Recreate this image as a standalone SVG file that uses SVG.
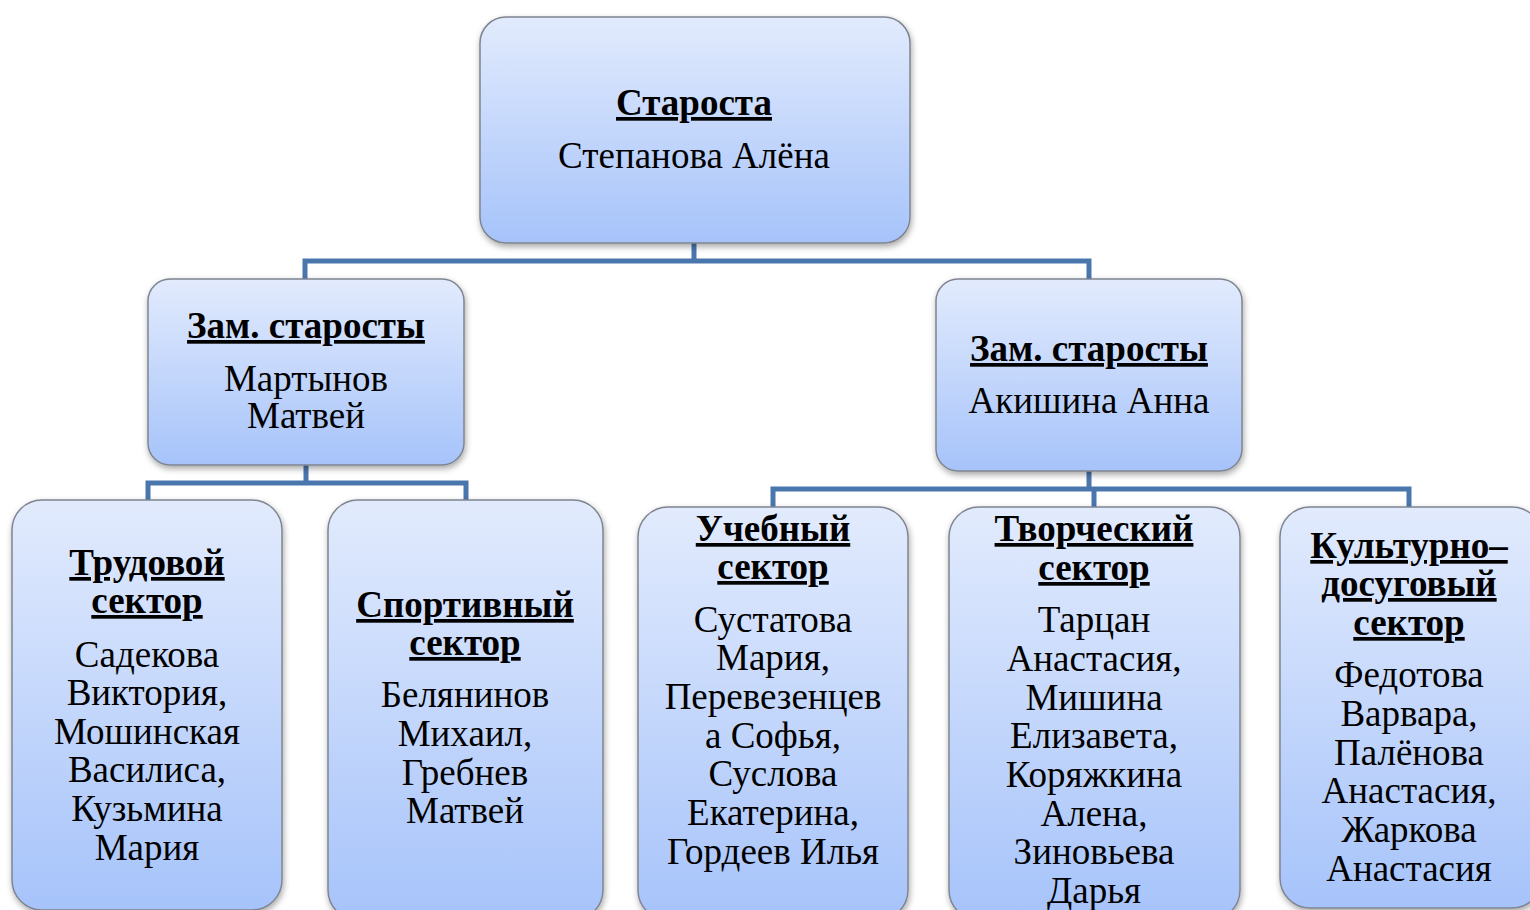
<svg xmlns="http://www.w3.org/2000/svg" width="1530" height="910" viewBox="0 0 1530 910">
<defs>
<linearGradient id="g" x1="0" y1="0" x2="0" y2="1">
<stop offset="0" stop-color="#E2EBFD"/>
<stop offset="1" stop-color="#A6C3FA"/>
</linearGradient>
<filter id="sh" x="-10%" y="-10%" width="120%" height="120%">
<feDropShadow dx="1" dy="3" stdDeviation="3" flood-color="#000" flood-opacity="0.35"/>
</filter>
</defs>
<style>
.box{fill:url(#g);stroke:#7F8590;stroke-width:1.5;filter:url(#sh)}
.con{fill:none;stroke:#4A76AE;stroke-width:5;stroke-linejoin:miter}
text{font-family:"Liberation Serif","Times New Roman",serif;font-size:37px;fill:#000;text-anchor:middle}
.t{font-weight:bold;text-decoration:underline}
</style>
<g id="connectors">
<path class="con" d="M694,243 V261 M305,281 V261 H1089 V281"/>
<path class="con" d="M306,465 V483 M148,502 V483 H466 V502"/>
<path class="con" d="M1089,471 V489 M773,509 V489 H1409 V509 M1094,489 V509"/>
</g>
<g id="starosta">
<rect class="box" x="480" y="17" width="430" height="226" rx="26"/>
<text class="t" x="694" y="115">Староста</text>
<text x="694" y="168">Степанова Алёна</text>
</g>
<g id="zam-left">
<rect class="box" x="148" y="279" width="316" height="186" rx="22"/>
<text class="t" x="306" y="338">Зам. старосты</text>
<text x="306" y="391">Мартынов</text>
<text x="306" y="428">Матвей</text>
</g>
<g id="zam-right">
<rect class="box" x="936" y="279" width="306" height="192" rx="22"/>
<text class="t" x="1089" y="361">Зам. старосты</text>
<text x="1089" y="413">Акишина Анна</text>
</g>
<g id="trudovoy">
<rect class="box" x="12" y="500" width="270" height="410" rx="30"/>
<text class="t" x="147" y="575">Трудовой</text>
<text class="t" x="147" y="613">сектор</text>
<text x="147" y="667">Садекова</text>
<text x="147" y="705">Виктория,</text>
<text x="147" y="744">Мошинская</text>
<text x="147" y="782">Василиса,</text>
<text x="147" y="821">Кузьмина</text>
<text x="147" y="860">Мария</text>
</g>
<g id="sportivny">
<rect class="box" x="328" y="500" width="275" height="420" rx="30"/>
<text class="t" x="465" y="617">Спортивный</text>
<text class="t" x="465" y="655">сектор</text>
<text x="465" y="707">Белянинов</text>
<text x="465" y="746">Михаил,</text>
<text x="465" y="785">Гребнев</text>
<text x="465" y="823">Матвей</text>
</g>
<g id="uchebny">
<rect class="box" x="638" y="507" width="270" height="413" rx="30"/>
<text class="t" x="773" y="541">Учебный</text>
<text class="t" x="773" y="579">сектор</text>
<text x="773" y="632">Сустатова</text>
<text x="773" y="670">Мария,</text>
<text x="773" y="709">Перевезенцев</text>
<text x="773" y="748">а Софья,</text>
<text x="773" y="786">Суслова</text>
<text x="773" y="825">Екатерина,</text>
<text x="773" y="864">Гордеев Илья</text>
</g>
<g id="tvorcheskiy">
<rect class="box" x="949" y="507" width="291" height="413" rx="30"/>
<text class="t" x="1094" y="541">Творческий</text>
<text class="t" x="1094" y="580">сектор</text>
<text x="1094" y="632">Тарцан</text>
<text x="1094" y="671">Анастасия,</text>
<text x="1094" y="710">Мишина</text>
<text x="1094" y="748">Елизавета,</text>
<text x="1094" y="787">Коряжкина</text>
<text x="1094" y="826">Алена,</text>
<text x="1094" y="864">Зиновьева</text>
<text x="1094" y="903">Дарья</text>
</g>
<g id="kulturno">
<rect class="box" x="1280" y="507" width="262" height="401" rx="30"/>
<text class="t" x="1409" y="558">Культурно–</text>
<text class="t" x="1409" y="596">досуговый</text>
<text class="t" x="1409" y="635">сектор</text>
<text x="1409" y="687">Федотова</text>
<text x="1409" y="726">Варвара,</text>
<text x="1409" y="765">Палёнова</text>
<text x="1409" y="803">Анастасия,</text>
<text x="1409" y="842">Жаркова</text>
<text x="1409" y="881">Анастасия</text>
</g>
</svg>
